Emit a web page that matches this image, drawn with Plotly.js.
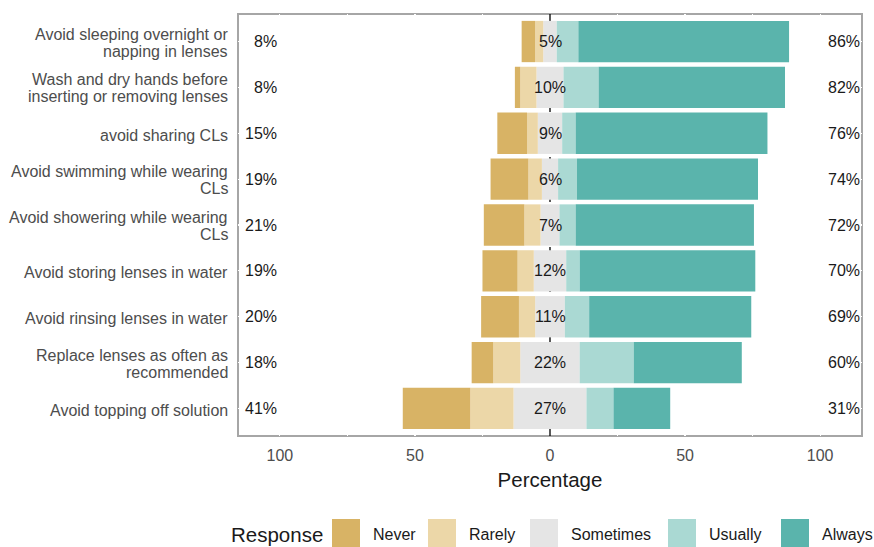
<!DOCTYPE html>
<html>
<head>
<meta charset="utf-8">
<script src="https://cdn.plot.ly/plotly-3.0.1.min.js"></script>
<style>html,body{margin:0;padding:0;background:#fff;}#chart{width:874px;height:547px;}</style>
</head>
<body>
<div id="chart"></div>
<script>
// ---- data (top to bottom) ----
var items = [
  "Avoid sleeping overnight or<br>napping in lenses",
  "Wash and dry hands before<br>inserting or removing lenses",
  "avoid sharing CLs",
  "Avoid swimming while wearing<br>CLs",
  "Avoid showering while wearing<br>CLs",
  "Avoid storing lenses in water",
  "Avoid rinsing lenses in water",
  "Replace lenses as often as<br>recommended",
  "Avoid topping off solution"
];
var never     = [5, 2, 11, 14, 15, 13, 14, 8, 25];
var rarely    = [3, 6, 4, 5, 6, 6, 6, 10, 16];
var sometimes = [5, 10, 9, 6, 7, 12, 11, 22, 27];
var usually   = [8, 13, 5, 7, 6, 5, 9, 20, 10];
var always    = [78, 69, 71, 67, 66, 65, 60, 40, 21];
var responses = ["Never", "Rarely", "Sometimes", "Usually", "Always"];
var xTickVals = [-100, -50, 0, 50, 100];
var xTickText = ["100", "50", "0", "50", "100"];
var xGridVals = [-100, -75, -50, -25, 25, 50, 75, 100];

// ---- styles ----
var colors = {Never: "#D8B365", Rarely: "#ECD7A8", Sometimes: "#E5E5E5", Usually: "#AAD9D3", Always: "#5AB4AC"};
var FONT = "Liberation Sans, Arial, sans-serif";

function neg(a){ return a.map(function(v){ return -v; }); }
function half(a, s){ return a.map(function(v){ return s * v / 2; }); }

function barTrace(name, xs) {
  return {
    type: "bar", orientation: "h", y: items, x: xs, name: name,
    marker: {color: colors[name], line: {width: 0}},
    width: 0.9, showlegend: false, hoverinfo: "skip"
  };
}

var traces = [
  barTrace("Sometimes", half(sometimes, -1)),
  barTrace("Sometimes", half(sometimes, 1)),
  barTrace("Rarely", neg(rarely)),
  barTrace("Never", neg(never)),
  barTrace("Usually", usually),
  barTrace("Always", always)
];

var plotL = 238, plotW = 624, plotT = 14, plotH = 422;
function px2x(p){ return (p - plotL) / plotW; }
function py2y(p){ return (plotT + plotH - p) / plotH; }

var annotations = [];
var valFont = {family: FONT, size: 16, color: "#1a1a1a"};
var catFont = {family: FONT, size: 16, color: "#4d4d4d"};
items.forEach(function(it, i) {
  var left = never[i] + rarely[i];
  var right = usually[i] + always[i];
  annotations.push({x: -100.3, y: it, xref: "x", yref: "y", text: left + "%", showarrow: false,
    xanchor: "right", font: valFont});
  annotations.push({x: 0, y: it, xref: "x", yref: "y", text: sometimes[i] + "%", showarrow: false,
    xanchor: "center", font: valFont});
  annotations.push({x: 102, y: it, xref: "x", yref: "y", text: right + "%", showarrow: false,
    xanchor: "left", font: valFont});
  // category label (one annotation per line for ggplot-like tight line spacing)
  var lines = it.split("<br>");
  var shifts = lines.length === 2 ? [7.5, -9.5] : [-2];
  lines.forEach(function(line, k) {
    annotations.push({xref: "paper", yref: "y", x: px2x(230), y: it, yshift: shifts[k],
      xanchor: "right", yanchor: "middle", text: line, showarrow: false, font: catFont});
  });
});

// ---- custom legend ----
var legendSquareLeft = [332, 428, 530, 668, 781];
var legendSq = 28, legendTop = 519, legendMid = 534;

var shapes = [
  {type: "rect", xref: "paper", yref: "paper", x0: 0, x1: 1, y0: 0, y1: 1,
   line: {color: "#A6A6A6", width: 2}, fillcolor: "rgba(0,0,0,0)", layer: "below"},
  {type: "line", xref: "x", yref: "paper", x0: 0, x1: 0, y0: 0, y1: 1,
   line: {color: "#000000", width: 1.3, dash: "dash"}, layer: "below"}
];
annotations.push({xref: "paper", yref: "paper", x: px2x(229), y: py2y(legendMid), xanchor: "left", yanchor: "middle",
  text: "Response", showarrow: false, font: {family: FONT, size: 20.5, color: "#1a1a1a"}});
responses.forEach(function(r, k) {
  var l = legendSquareLeft[k];
  shapes.push({type: "rect", xref: "paper", yref: "paper", x0: px2x(l), x1: px2x(l + legendSq),
    y0: py2y(legendTop + legendSq), y1: py2y(legendTop), line: {width: 0}, fillcolor: colors[r], layer: "above"});
  annotations.push({xref: "paper", yref: "paper", x: px2x(l + legendSq + 11), y: py2y(legendMid), xanchor: "left", yanchor: "middle",
    text: r, showarrow: false, font: {family: FONT, size: 16, color: "#1a1a1a"}});
});

var layout = {
  width: 874, height: 547,
  margin: {l: plotL, r: 874 - plotL - plotW, t: plotT, b: 547 - plotT - plotH, pad: 0},
  paper_bgcolor: "#ffffff", plot_bgcolor: "#ffffff",
  barmode: "relative", bargap: 0.1,
  showlegend: false,
  font: {family: FONT},
  xaxis: {
    range: [-115.5, 115.5], tickmode: "array", tickvals: xTickVals, ticktext: xTickText,
    showgrid: false, zeroline: false, showline: false,
    minor: {tickmode: "array", tickvals: xGridVals, showgrid: true, gridcolor: "#ffffff", gridwidth: 1.2, ticks: ""},
    ticks: "", ticklabelstandoff: 8,
    tickfont: {family: FONT, size: 16, color: "#4d4d4d"},
    title: {text: "Percentage", font: {family: FONT, size: 20.5, color: "#1a1a1a"}, standoff: 9},
    fixedrange: true
  },
  yaxis: {
    type: "category", categoryorder: "array", categoryarray: items,
    range: [8.6, -0.6], showgrid: true, gridcolor: "#ffffff", gridwidth: 1.2,
    zeroline: false, showline: false, ticks: "", showticklabels: false, fixedrange: true
  },
  shapes: shapes,
  annotations: annotations
};

Plotly.newPlot("chart", traces, layout, {displayModeBar: false, staticPlot: true});
</script>
</body>
</html>
